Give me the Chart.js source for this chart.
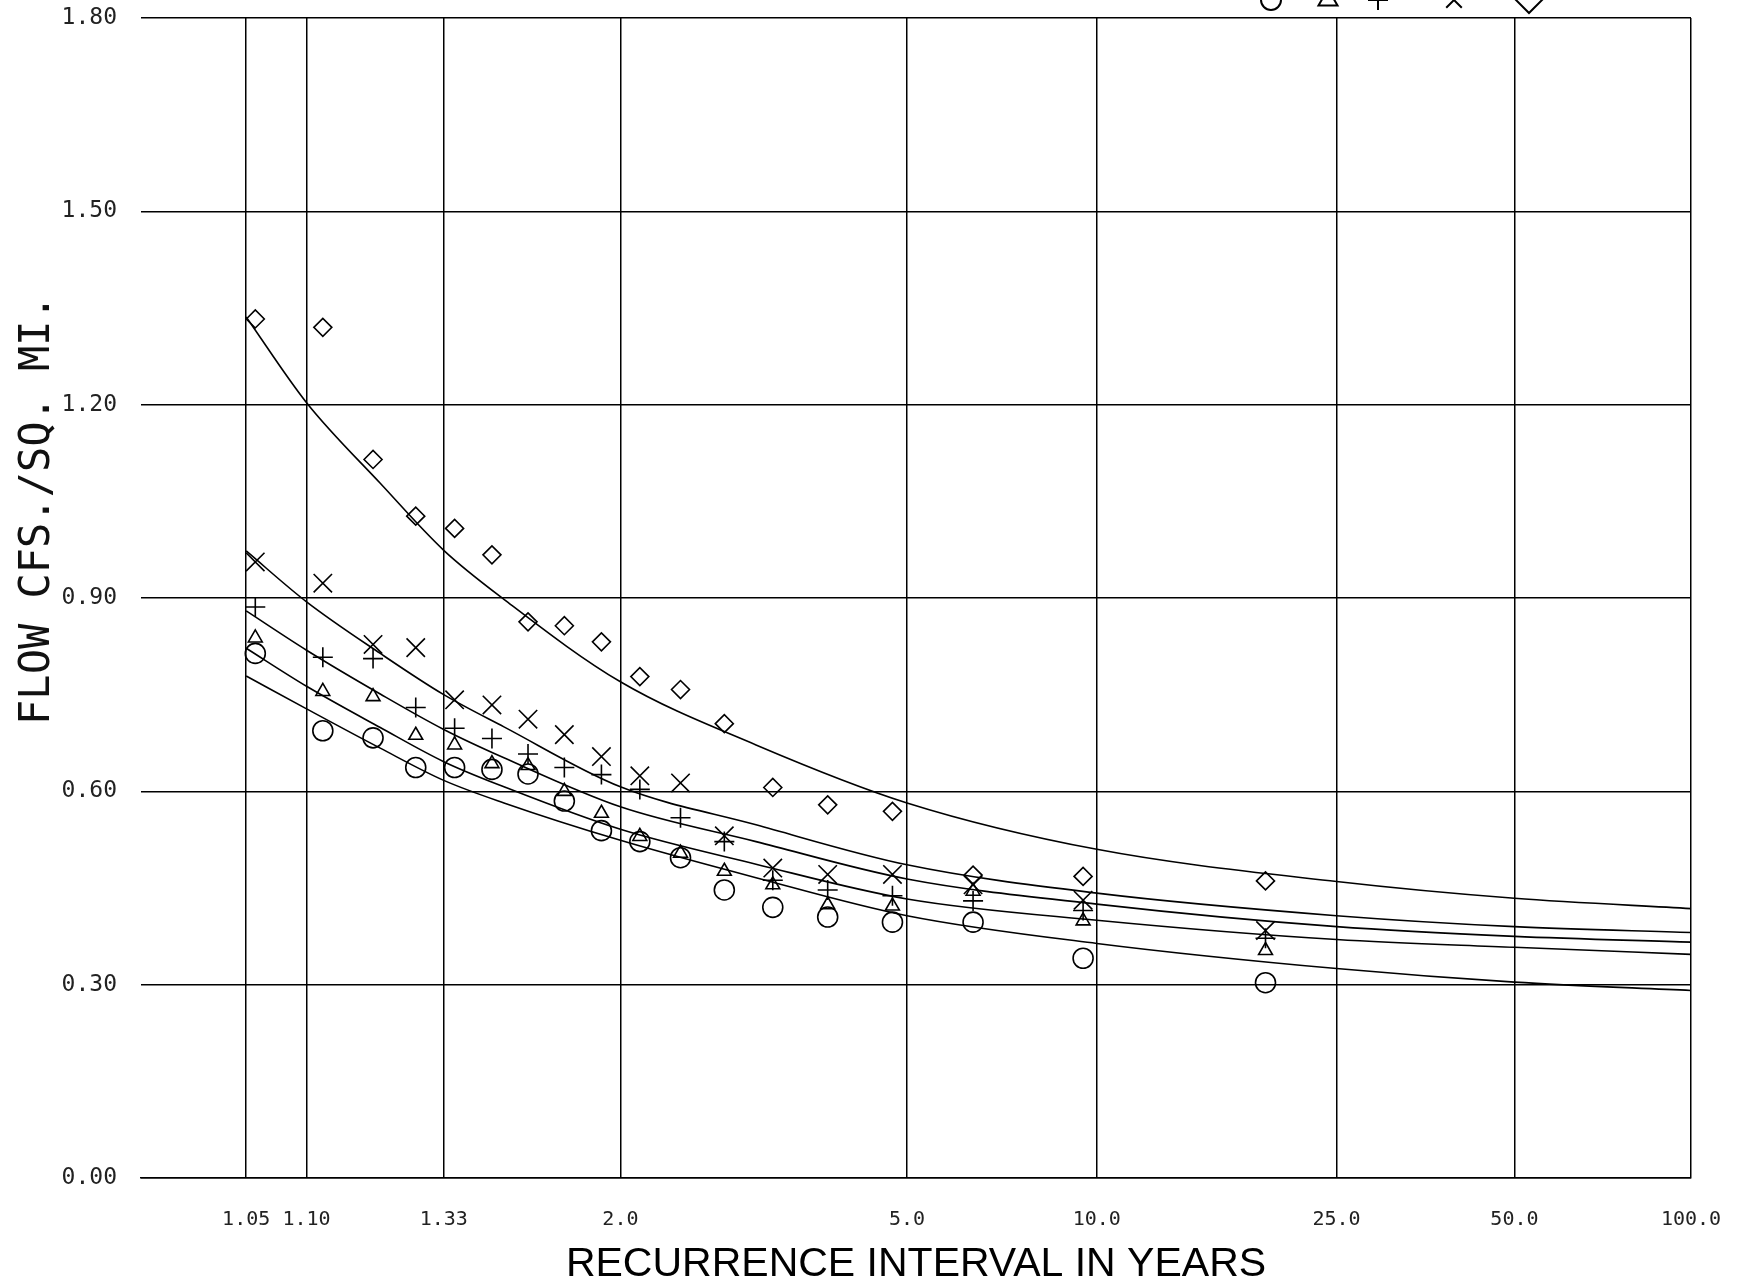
<!DOCTYPE html>
<html>
<head>
<meta charset="utf-8">
<title>Flow frequency curves</title>
<script src="https://cdn.jsdelivr.net/npm/chart.js@4.4.1/dist/chart.umd.min.js"></script>
<style>
  html, body { margin: 0; padding: 0; background: #fff; }
  #wrap { width: 1743px; height: 1285px; }
</style>
</head>
<body>
<div id="wrap"><canvas id="flowChart" width="1743" height="1285"></canvas></div>
<script>
// recurrence interval (years) of each plotted flow, rank 18 down to rank 1
const plotYears = [1.056, 1.118, 1.188, 1.267, 1.357, 1.462, 1.583, 1.727, 1.90,
                   2.111, 2.375, 2.714, 3.167, 3.80, 4.75, 6.333, 9.5, 19.0];

// plotted flows, cfs per sq. mi.
const circleFlows   = [0.814, 0.694, 0.683, 0.637, 0.637, 0.634, 0.627, 0.585, 0.539,
                       0.522, 0.497, 0.447, 0.420, 0.405, 0.397, 0.397, 0.341, 0.303];
const triangleFlows = [0.838, 0.755, 0.747, 0.687, 0.672, 0.643, 0.640, 0.600, 0.566,
                       0.530, 0.504, 0.476, 0.455, 0.424, 0.422, 0.445, 0.399, 0.353];
const plusFlows     = [0.886, 0.808, 0.806, 0.730, 0.698, 0.682, 0.658, 0.637, 0.626,
                       0.603, 0.559, 0.522, 0.462, 0.447, 0.438, 0.430, 0.415, 0.372];
const crossFlows    = [0.956, 0.923, 0.828, 0.823, 0.742, 0.734, 0.712, 0.688, 0.654,
                       0.624, 0.613, 0.531, 0.481, 0.471, 0.471, 0.455, 0.431, 0.384];
const diamondFlows  = [1.333, 1.320, 1.115, 1.027, 1.008, 0.967, 0.863, 0.857, 0.832,
                       0.778, 0.758, 0.705, 0.606, 0.579, 0.569, 0.470, 0.468, 0.461];

// fitted frequency curves, read at these recurrence intervals
const fitYears = [1.05, 1.10, 1.20, 1.33, 1.5, 2.0, 3.0, 5.0, 10.0, 25.0, 50.0, 100.0];
const diamondFit  = [1.336, 1.203, 1.078, 0.974, 0.898, 0.770, 0.672, 0.582, 0.510, 0.460, 0.434, 0.418];
const crossFit    = [0.973, 0.894, 0.814, 0.750, 0.700, 0.607, 0.548, 0.486, 0.442, 0.407, 0.390, 0.381];
const plusFit     = [0.880, 0.819, 0.751, 0.696, 0.652, 0.576, 0.522, 0.464, 0.425, 0.390, 0.375, 0.366];
const triangleFit = [0.822, 0.763, 0.699, 0.646, 0.607, 0.541, 0.487, 0.433, 0.400, 0.370, 0.358, 0.347];
const circleFit   = [0.779, 0.728, 0.667, 0.617, 0.582, 0.524, 0.466, 0.407, 0.364, 0.325, 0.304, 0.291];

const xTickYears = [1.05, 1.10, 1.33, 2.0, 5.0, 10.0, 25.0, 50.0, 100.0];
const xTickLabels = ["1.05", "1.10", "1.33", "2.0", "5.0", "10.0", "25.0", "50.0", "100.0"];
const yTickValues = [0, 0.3, 0.6, 0.9, 1.2, 1.5, 1.8];
const yTickLabels = ["0.00", "0.30", "0.60", "0.90", "1.20", "1.50", "1.80"];

const markerStyles = ["circle", "triangle", "cross", "crossRot", "rectRot"];

// extreme value (Gumbel) paper: x is the reduced variate of the recurrence interval
function reduced(years) {
    return -Math.log(-Math.log(1 - 1 / years));
}

function points(years, values) {
    return years.map((t, i) => ({ x: reduced(t), y: values[i] }));
}

const monoFont = { family: "'DejaVu Sans Mono', monospace", size: 20 };

const markerSets = [
    { data: circleFlows, style: "circle", radius: 10 },
    { data: triangleFlows, style: "triangle", radius: 8 },
    { data: plusFlows, style: "cross", radius: 10 },
    { data: crossFlows, style: "crossRot", radius: 13 },
    { data: diamondFlows, style: "rectRot", radius: 9 },
].map((s) => ({
    type: "scatter",
    data: points(plotYears, s.data),
    showLine: false,
    pointStyle: s.style,
    pointRadius: s.radius,
    pointBorderWidth: 1.6,
    pointBorderColor: "#000",
    pointBackgroundColor: "rgba(0,0,0,0)",
}));

const fitSets = [diamondFit, crossFit, plusFit, triangleFit, circleFit].map((values) => ({
    type: "line",
    data: points(fitYears, values),
    borderColor: "#000",
    borderWidth: 1.6,
    pointRadius: 0,
    fill: false,
    cubicInterpolationMode: "monotone",
}));

// y title and the symbol key cut off at the top of the sheet
const sheetText = {
    id: "sheetText",
    afterDraw(chart) {
        const ctx = chart.ctx;
        ctx.save();
        ctx.translate(38, 510);
        ctx.rotate(-Math.PI / 2);
        ctx.font = "42px 'DejaVu Sans Mono', monospace";
        ctx.textAlign = "center";
        ctx.textBaseline = "middle";
        ctx.fillStyle = "#111";
        ctx.fillText("FLOW CFS./SQ. MI.", 0, 0);
        ctx.restore();

        const keyX = [1271, 1328, 1378, 1454, 1529];
        const keyR = [10, 11, 10, 11, 13];
        ctx.save();
        ctx.strokeStyle = "#000";
        ctx.fillStyle = "rgba(0,0,0,0)";
        ctx.lineWidth = 2;
        markerStyles.forEach((style, i) => {
            Chart.helpers.drawPoint(ctx, { pointStyle: style, radius: keyR[i], borderWidth: 2, rotation: 0 }, keyX[i], 0);
        });
        ctx.restore();
    },
};

new Chart(document.getElementById("flowChart"), {
    type: "scatter",
    data: { datasets: [...fitSets, ...markerSets] },
    options: {
        responsive: false,
        animation: false,
        layout: { padding: { top: 18, right: 52, bottom: 0, left: 0 } },
        plugins: {
            legend: { display: false },
            tooltip: { enabled: false },
        },
        scales: {
            x: {
                type: "linear",
                min: reduced(1.01),
                max: reduced(100),
                afterBuildTicks: (scale) => {
                    scale.ticks = xTickYears.map((t) => ({ value: reduced(t) }));
                },
                afterFit: (scale) => {
                    scale.height = 107;
                    // labels may hang past the plot edge, as on the sheet
                    scale.paddingLeft = 0;
                    scale.paddingRight = 0;
                },
                grid: { color: "#000", lineWidth: 1.5, drawTicks: false },
                border: { display: true, color: "#000", width: 1.5 },
                ticks: {
                    autoSkip: false,
                    maxRotation: 0,
                    padding: 30,
                    color: "#222",
                    font: monoFont,
                    callback: (value, index) => xTickLabels[index],
                },
                title: {
                    display: true,
                    text: "RECURRENCE INTERVAL IN YEARS",
                    color: "#000",
                    font: { family: "'Liberation Sans', Arial, sans-serif", size: 41, lineHeight: 1 },
                    padding: 0,
                },
            },
            y: {
                min: 0,
                max: 1.8,
                afterBuildTicks: (scale) => {
                    scale.ticks = yTickValues.map((v) => ({ value: v }));
                },
                afterFit: (scale) => {
                    scale.width = 141;
                    scale.paddingTop = 0;
                    scale.paddingBottom = 0;
                },
                grid: { color: "#000", lineWidth: 1.5, drawTicks: false },
                border: { display: false },
                ticks: {
                    padding: 24,
                    color: "#222",
                    font: { family: "'DejaVu Sans Mono', monospace", size: 23 },
                    callback: (value, index) => yTickLabels[index],
                },
            },
        },
    },
    plugins: [sheetText],
});
</script>
</body>
</html>
